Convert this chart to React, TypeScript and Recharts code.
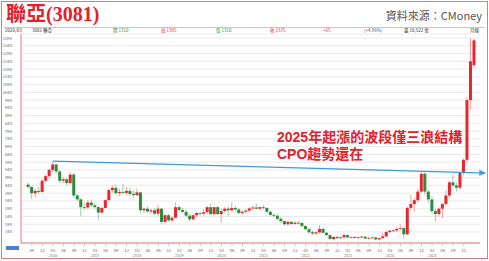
import React from "react";
import { ComposedChart, Bar, XAxis, YAxis, CartesianGrid, ReferenceLine } from "recharts";

// monthly candles, 2015-08 .. 2026-03
const months = [
  "2015-08", "2015-09", "2015-10", "2015-11", "2015-12",
  "2016-01", "2016-02", "2016-03", "2016-04", "2016-05", "2016-06", "2016-07", "2016-08", "2016-09", "2016-10", "2016-11", "2016-12",
  "2017-01", "2017-02", "2017-03", "2017-04", "2017-05", "2017-06", "2017-07", "2017-08", "2017-09", "2017-10", "2017-11", "2017-12",
  "2018-01", "2018-02", "2018-03", "2018-04", "2018-05", "2018-06", "2018-07", "2018-08", "2018-09", "2018-10", "2018-11", "2018-12",
  "2019-01", "2019-02", "2019-03", "2019-04", "2019-05", "2019-06", "2019-07", "2019-08", "2019-09", "2019-10", "2019-11", "2019-12",
  "2020-01", "2020-02", "2020-03", "2020-04", "2020-05", "2020-06", "2020-07", "2020-08", "2020-09", "2020-10", "2020-11", "2020-12",
  "2021-01", "2021-02", "2021-03", "2021-04", "2021-05", "2021-06", "2021-07", "2021-08", "2021-09", "2021-10", "2021-11", "2021-12",
  "2022-01", "2022-02", "2022-03", "2022-04", "2022-05", "2022-06", "2022-07", "2022-08", "2022-09", "2022-10", "2022-11", "2022-12",
  "2023-01", "2023-02", "2023-03", "2023-04", "2023-05", "2023-06", "2023-07", "2023-08", "2023-09", "2023-10", "2023-11", "2023-12",
  "2024-01", "2024-02", "2024-03", "2024-04", "2024-05", "2024-06", "2024-07", "2024-08", "2024-09", "2024-10", "2024-11", "2024-12",
  "2025-01", "2025-02", "2025-03", "2025-04", "2025-05", "2025-06", "2025-07", "2025-08", "2025-09", "2025-10", "2025-11", "2025-12",
  "2026-01", "2026-02", "2026-03",
];

const opens = [
  445, 430, 390, 405, 398, 470, 500,
  540, 575, 530, 470, 480, 455, 510, 375, 350, 300, 298, 330,
  312, 300, 265, 295, 345, 410, 425, 390, 398, 392, 405, 385,
  378, 395, 280, 290, 272, 280, 258, 290, 205, 248, 215, 232,
  300, 282, 270, 245, 222, 248, 262, 258, 268, 300, 255, 300,
  255, 275, 290, 280, 295, 285, 262, 270, 278, 292, 298, 290,
  300, 295, 270, 250, 245, 225, 210, 190, 205, 192, 200, 198,
  178, 158, 138, 130, 138, 160, 135, 120, 95, 108, 100, 105,
  120, 105, 108, 102, 106, 110, 98, 102, 105, 92, 100, 112,
  140, 148, 150, 160, 165, 125, 295, 320, 345, 400, 515, 400,
  350, 275, 255, 290, 320, 375, 460, 440, 425, 520, 605, 990,
  1215,
];
const highs = [
  460, 435, 420, 430, 480, 510, 550,
  597, 580, 540, 495, 490, 525, 520, 385, 358, 325, 345, 350,
  325, 305, 300, 350, 420, 440, 445, 420, 450, 430, 425, 410,
  420, 400, 300, 305, 290, 292, 315, 295, 255, 260, 240, 330,
  310, 295, 285, 255, 255, 270, 270, 285, 310, 325, 305, 310,
  290, 300, 305, 330, 310, 295, 280, 285, 300, 310, 325, 305,
  315, 300, 280, 262, 255, 235, 215, 215, 215, 210, 210, 205,
  185, 165, 150, 145, 185, 168, 140, 125, 112, 115, 110, 130,
  125, 112, 115, 110, 115, 112, 108, 110, 106, 105, 135, 145,
  155, 160, 170, 190, 175, 305, 380, 360, 420, 528, 525, 410,
  370, 290, 300, 330, 410, 470, 510, 460, 530, 615, 1010, 1390,
  1385,
];
const lows = [
  420, 350, 360, 385, 395, 460, 490,
  525, 515, 455, 455, 440, 445, 360, 340, 240, 280, 285, 300,
  290, 220, 255, 290, 340, 395, 380, 370, 385, 380, 370, 360,
  372, 260, 260, 265, 255, 250, 245, 190, 195, 205, 205, 225,
  270, 262, 235, 210, 215, 235, 245, 245, 255, 250, 250, 250,
  200, 265, 240, 270, 270, 255, 250, 260, 270, 280, 285, 280,
  285, 262, 240, 235, 215, 200, 180, 180, 185, 185, 190, 170,
  150, 130, 120, 120, 130, 130, 115, 90, 85, 95, 95, 100,
  100, 98, 100, 95, 100, 95, 92, 96, 88, 85, 98, 108,
  128, 140, 140, 150, 95, 120, 280, 270, 330, 390, 380, 330,
  260, 205, 240, 230, 305, 360, 430, 400, 410, 505, 590, 930,
  1200,
];
const closes = [
  430, 390, 405, 398, 470, 500, 540,
  575, 530, 470, 480, 455, 510, 375, 350, 300, 298, 330, 312,
  300, 265, 295, 345, 410, 425, 390, 398, 392, 405, 385, 378,
  395, 280, 290, 272, 280, 258, 290, 205, 248, 215, 232, 300,
  282, 270, 245, 222, 248, 262, 258, 268, 300, 255, 300, 255,
  275, 290, 280, 295, 285, 262, 270, 278, 292, 298, 290, 300,
  295, 270, 250, 245, 225, 210, 190, 205, 192, 200, 198, 178,
  158, 138, 130, 138, 160, 135, 120, 95, 108, 100, 105, 120,
  105, 108, 102, 106, 110, 98, 102, 105, 92, 100, 112, 140,
  148, 150, 160, 165, 125, 295, 320, 345, 400, 515, 400, 350,
  275, 255, 290, 320, 375, 460, 440, 425, 520, 605, 990, 1240,
  1375,
];

const yTicks = [
  140, 190, 240, 290, 340, 390, 440, 490, 540, 590, 640, 690, 740,
  790, 840, 890, 940, 990, 1040, 1090, 1140, 1190, 1240, 1290, 1340, 1390,
];
const quarterMonths = ["03", "06", "09", "12"];
const lastMonth = months[months.length - 1];

// blue resistance line from the 2016 top
const trendStart = { x: "2016-03", y: 597 };
const trendEnd = { x: "2026-03", y: 522 };

const data = months.map((m, i) => ({
  m,
  open: opens[i],
  high: highs[i],
  low: lows[i],
  close: closes[i],
}));

const RED = "#e8262d";
const GREEN = "#2e8b3c";
const FRAME = "#e07a82";
const CJK = '"Noto Sans CJK TC", "Noto Sans", sans-serif';

const Candle = (props: any) => {
  const { x, y, width, height, payload } = props;
  if (x == null || !payload) return <g />;
  const { open, close, high, low } = payload;
  const top = Math.min(y, y + height);
  const bottom = Math.max(y, y + height);
  const k = high > low ? (bottom - top) / (high - low) : 0;
  const bodyTop = top + (high - Math.max(open, close)) * k;
  const bodyBottom = top + (high - Math.min(open, close)) * k;
  const color = close >= open ? RED : GREEN;
  const cx = x + width / 2;
  return (
    <g>
      <line x1={cx} x2={cx} y1={top} y2={bottom} stroke={color} strokeWidth={0.8} strokeOpacity={0.55} />
      <rect x={x} y={bodyTop} width={width} height={Math.max(bodyBottom - bodyTop, 0.8)} fill={color} />
    </g>
  );
};

const MonthTick = (props: any) => {
  const { x, y, payload } = props;
  const [yr, mo] = String(payload.value).split("-");
  if (!quarterMonths.includes(mo) || payload.value === lastMonth) return <g />;
  return (
    <g>
      <line x1={x} x2={x} y1={y + 1} y2={y + 3} stroke={FRAME} strokeWidth={0.6} />
      <text x={x} y={y + 9} textAnchor="middle" fontSize={4.2} fill="#666">{mo}</text>
      {mo === "03" && (
        <text x={x} y={y + 13.5} textAnchor="middle" fontSize={3.8} fill="#777">{yr}</text>
      )}
    </g>
  );
};

const TrendArrow = (p: any) => {
  const { x1, y1, x2, y2 } = p;
  if ([x1, y1, x2, y2].some((v) => v == null || isNaN(v))) return <g />;
  const dx = x2 - x1;
  const dy = y2 - y1;
  const len = Math.hypot(dx, dy) || 1;
  const ux = dx / len;
  const uy = dy / len;
  const ex = x2 + ux * 12;
  const ey = y2 + uy * 12;
  const hl = 7;
  const hw = 3;
  const bx = ex - ux * hl;
  const by = ey - uy * hl;
  return (
    <g>
      <line x1={x1} y1={y1} x2={bx} y2={by} stroke="#3b9be0" strokeWidth={1.3} />
      <polygon
        points={`${ex},${ey} ${bx - uy * hw},${by + ux * hw} ${bx + uy * hw},${by - ux * hw}`}
        fill="#3b9be0"
      />
    </g>
  );
};

const info: { t: string; x: number; c: string }[] = [
  { t: "2026/03", x: 5, c: "#333" },
  { t: "3081 聯亞", x: 32, c: "#333" },
  { t: "開 1310", x: 113, c: GREEN },
  { t: "高 1395", x: 161, c: RED },
  { t: "低 1310", x: 216, c: GREEN },
  { t: "收 1375", x: 270, c: RED },
  { t: "+65", x: 323, c: RED },
  { t: "(+4.96%)", x: 364, c: "#555" },
  { t: "量 10,522 張", x: 404, c: "#333" },
  { t: "月線", x: 470, c: "#333" },
];

const noteStyle: React.CSSProperties = {
  position: "absolute",
  left: 277,
  fontSize: 14,
  lineHeight: "15px",
  fontWeight: 700,
  color: "#e3202c",
  whiteSpace: "nowrap",
  fontFamily: '"Liberation Sans", "Noto Sans CJK TC", sans-serif',
};

export default function App() {
  return (
    <div
      style={{
        position: "absolute",
        left: 0,
        top: 0,
        width: 489,
        height: 261,
        background: "#fff",
        overflow: "hidden",
        fontFamily: CJK,
      }}
    >
      <div style={{ position: "absolute", left: 0, top: 0 }}>
        <ComposedChart width={489} height={261} data={data} margin={{ top: 34, right: 9, bottom: 0, left: 0 }}>
          <CartesianGrid vertical={false} stroke="#e4e4e4" strokeWidth={0.8} />
          <XAxis
            dataKey="m"
            height={18}
            interval={0}
            padding={{ left: 5.6, right: 4 }}
            tickLine={false}
            tickSize={0}
            tickMargin={0}
            axisLine={{ stroke: FRAME, strokeWidth: 1 }}
            tick={<MonthTick />}
          />
          <YAxis
            width={21}
            domain={[69, 1416]}
            ticks={yTicks}
            interval={0}
            tickLine={false}
            tickMargin={3}
            axisLine={{ stroke: FRAME, strokeWidth: 1 }}
            tick={{ fontSize: 4.2, fill: "#666" }}
          />
          <Bar
            dataKey={(d: any) => [d.low, d.high]}
            barSize={3}
            shape={Candle}
            isAnimationActive={false}
          />
          <ReferenceLine segment={[trendStart, trendEnd]} ifOverflow="visible" shape={TrendArrow} />
        </ComposedChart>
      </div>

      {/* header */}
      <div
        style={{
          position: "absolute",
          left: 6,
          top: 2,
          fontSize: 20,
          lineHeight: "24px",
          fontWeight: 700,
          color: "#e3202c",
          fontFamily: '"Liberation Serif", "Noto Sans CJK TC", serif',
        }}
      >
        聯亞(3081)
      </div>
      <div
        style={{
          position: "absolute",
          right: 7,
          top: 8,
          fontSize: 11,
          lineHeight: "14px",
          color: "#555",
        }}
      >
        資料來源：CMoney
      </div>
      <div style={{ position: "absolute", left: 4, top: 26.5, width: 481, height: 1, background: "#c8c8c8" }} />
      {info.map((it) => (
        <div
          key={it.t}
          style={{
            position: "absolute",
            left: it.x,
            top: 28,
            fontSize: 4.5,
            lineHeight: "5px",
            color: it.c,
            whiteSpace: "nowrap",
          }}
        >
          {it.t}
        </div>
      ))}

      {/* annotation */}
      <div style={{ ...noteStyle, top: 130 }}>2025年起漲的波段僅三浪結構</div>
      <div style={{ ...noteStyle, top: 147 }}>CPO趨勢還在</div>

      <div style={{ position: "absolute", left: 6, top: 246, width: 13, height: 4, background: "#4a7fd0" }} />
      <div
        style={{
          position: "absolute",
          left: 1,
          top: 1,
          width: 487,
          height: 258,
          border: `1.5px solid ${FRAME}`,
          boxSizing: "border-box",
          pointerEvents: "none",
        }}
      />
    </div>
  );
}
